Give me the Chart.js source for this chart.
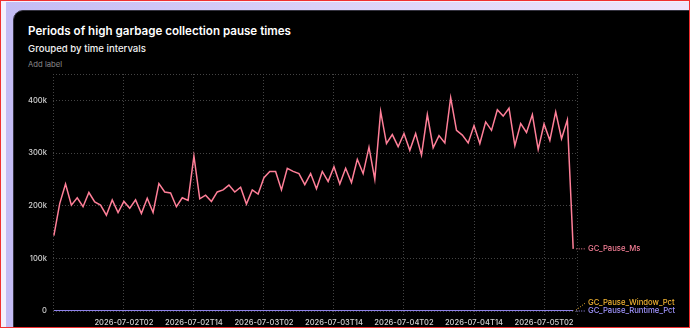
<!DOCTYPE html>
<html>
<head>
<meta charset="utf-8">
<script src="https://cdn.jsdelivr.net/npm/chart.js@4/dist/chart.umd.min.js"></script>
<style>
html,body{margin:0;padding:0;}
body{width:690px;height:328px;overflow:hidden;position:relative;background:#f4f0fc;font-family:Inter,"Noto Sans",sans-serif;}
#frame{position:absolute;left:6px;top:2px;right:0;bottom:0;background:linear-gradient(90deg,#c4bcf4 0%,#d9d1f8 45%,#efe5fb 100%);}
#panel{position:absolute;left:13px;top:10px;width:720px;height:400px;background:#000;border-radius:10px;border:1px solid #34323f;box-sizing:border-box;}
#outline{position:absolute;left:0;top:0;width:688px;height:326px;border:1px solid #f03030;z-index:9;pointer-events:none;}
.t{position:absolute;white-space:nowrap;line-height:1;}
#title{left:28px;top:26px;font-size:12px;font-weight:600;color:#fff;}
#sub{left:28px;top:44px;font-size:10px;font-weight:500;color:#f2f2f2;}
#add{left:28px;top:61px;font-size:8.5px;font-weight:400;color:#8a8a8a;}
#c{position:absolute;left:0;top:0;z-index:5;}
</style>
</head>
<body>
<div id="frame"></div>
<div id="panel"></div>
<div class="t" id="title">Periods of high garbage collection pause times</div>
<div class="t" id="sub">Grouped by time intervals</div>
<div class="t" id="add">Add label</div>
<canvas id="c" width="690" height="328"></canvas>
<div id="outline"></div>
<script>
// ---- data ----
const categories = [];
(function(){
  const start = Date.UTC(2026, 6, 1, 14);
  for (let i = 0; i < 90; i++) {
    categories.push(new Date(start + i * 3600000).toISOString().slice(0, 13));
  }
})();

const gcPauseMs = [
  143000,204000,241000,201000,215000,198000,225000,207000,201000,182000,
  211000,187000,208000,195000,211000,185000,214000,187000,242000,226000,
  224000,198000,215000,210000,294000,213000,220000,208000,226000,230000,
  239000,226000,235000,203000,230000,222000,253000,265000,265000,230000,
  271000,265000,261000,240000,261000,232000,265000,246000,274000,241000,
  271000,244000,288000,261000,311000,250000,379000,318000,335000,312000,
  337000,305000,337000,296000,373000,310000,333000,319000,405000,343000,
  334000,319000,352000,318000,359000,343000,382000,370000,385000,314000,
  356000,339000,373000,307000,355000,324000,378000,327000,363000,118000
];
const gcPauseWindowPct = [
  0,0,0,0,0,0,0,0,0,0, 0,0,0,0,0,0,0,0,0,0, 0,0,0,0,0,0,0,0,0,0,
  0,0,0,0,0,0,0,0,0,0, 0,0,0,0,0,0,0,0,0,0, 0,0,0,0,0,0,0,0,0,0,
  0,0,0,0,0,0,0,0,0,0, 0,0,0,0,0,0,0,0,0,0, 0,0,0,0,0,0,0,0,0,0
];
const gcPauseRuntimePct = [
  0,0,0,0,0,0,0,0,0,0, 0,0,0,0,0,0,0,0,0,0, 0,0,0,0,0,0,0,0,0,0,
  0,0,0,0,0,0,0,0,0,0, 0,0,0,0,0,0,0,0,0,0, 0,0,0,0,0,0,0,0,0,0,
  0,0,0,0,0,0,0,0,0,0, 0,0,0,0,0,0,0,0,0,0, 0,0,0,0,0,0,0,0,0,0
];
const xTickLabels = ['2026-07-02T02','2026-07-02T14','2026-07-03T02','2026-07-03T14','2026-07-04T02','2026-07-04T14','2026-07-05T02'];
const yTickValues = [0, 100000, 200000, 300000, 400000];
const yTickLabels = ['0', '100k', '200k', '300k', '400k'];
const yMax = 450000;

// ---- font sizing to match the reference text widths ----
const mctx = document.createElement('canvas').getContext('2d');
function fit(text, weight, target) {
  mctx.font = weight + ' 20px Inter';
  return Math.round(20 * target / mctx.measureText(text).width * 10) / 10;
}
document.getElementById('title').style.fontSize = fit('Periods of high garbage collection pause times', 600, 262) + 'px';
document.getElementById('sub').style.fontSize = fit('Grouped by time intervals', 500, 118.5) + 'px';
document.getElementById('add').style.fontSize = fit('Add label', 400, 34) + 'px';
const xTickSize = fit('2026-07-02T02', 500, 59);
const yTickSize = fit('400k', 500, 19);
const endLabelSize = fit('GC_Pause_Runtime_Pct', 500, 87);

// ---- chart ----
const gridColor = '#444444';
const toPoints = arr => arr.map((v, i) => ({x: i, y: v}));
const xMin = -0.15, xMax = categories.length - 1 + 0.65;

const endLabels = {
  id: 'endLabels',
  afterDatasetsDraw(chart) {
    const ctx = chart.ctx, area = chart.chartArea;
    const items = chart.data.datasets.map((ds, i) => {
      const meta = chart.getDatasetMeta(i);
      const p = meta.data[meta.data.length - 1];
      return {ds, i, x: p.x, y: p.y, ly: p.y};
    });
    const sorted = items.slice().sort((a, b) => (b.y - a.y) || (b.i - a.i));
    const gap = 8.5;
    for (let k = 1; k < sorted.length; k++) {
      if (sorted[k - 1].ly - sorted[k].ly < gap) sorted[k].ly = sorted[k - 1].ly - gap;
    }
    const lx = area.right + 11;
    ctx.save();
    ctx.font = '500 ' + endLabelSize + 'px Inter';
    ctx.textBaseline = 'middle';
    ctx.textAlign = 'left';
    items.forEach(it => {
      ctx.strokeStyle = it.ds.labelColor;
      ctx.lineWidth = 1;
      ctx.setLineDash([1, 1.5]);
      ctx.beginPath();
      ctx.moveTo(it.x + 3, it.y - (it.ly !== it.y ? 1 : 0));
      ctx.lineTo(lx - 2, it.ly);
      ctx.stroke();
      ctx.fillStyle = it.ds.labelColor;
      ctx.fillText(it.ds.label, lx, it.ly);
    });
    ctx.restore();
  }
};

new Chart(document.getElementById('c'), {
  type: 'line',
  data: {
    datasets: [
      {label: 'GC_Pause_Ms', data: toPoints(gcPauseMs), borderColor: '#ff7f98', labelColor: '#f77f97', borderWidth: 1.5, pointRadius: 0, tension: 0, order: 1},
      {label: 'GC_Pause_Window_Pct', data: toPoints(gcPauseWindowPct), borderColor: '#f2b33a', labelColor: '#f4b532', borderWidth: 2, pointRadius: 0, tension: 0, order: 2},
      {label: 'GC_Pause_Runtime_Pct', data: toPoints(gcPauseRuntimePct), borderColor: '#8f82ea', labelColor: '#a195ff', borderWidth: 2, pointRadius: 0, tension: 0, order: 0}
    ]
  },
  options: {
    responsive: false,
    animation: false,
    devicePixelRatio: 1,
    layout: {padding: {left: 0, top: 74, right: 113, bottom: 0}},
    plugins: {legend: {display: false}, title: {display: false}, tooltip: {enabled: false}},
    scales: {
      x: {
        type: 'linear', min: xMin, max: xMax,
        afterBuildTicks: s => {
          const t = [{value: xMin}];
          xTickLabels.forEach(l => t.push({value: categories.indexOf(l)}));
          t.push({value: xMax});
          s.ticks = t;
        },
        afterFit: s => { s.height = 17; },
        ticks: {
          autoSkip: false, maxRotation: 0, color: '#d2d2d2', font: {family: 'Inter', size: xTickSize, weight: '500'}, padding: 3,
          callback: v => { const c = categories[v]; return xTickLabels.includes(c) ? c : ''; }
        },
        grid: {color: gridColor, lineWidth: 1, tickLength: 4, tickColor: gridColor, tickBorderDash: [1, 2]},
        border: {display: false, dash: [1, 2]}
      },
      y: {
        min: 0, max: yMax,
        afterBuildTicks: s => { s.ticks = yTickValues.concat([yMax]).map(v => ({value: v})); },
        afterFit: s => { s.width = 53; },
        ticks: {
          color: '#d2d2d2', font: {family: 'Inter', size: yTickSize, weight: '500'}, padding: 6,
          callback: v => { const k = yTickValues.indexOf(v); return k >= 0 ? yTickLabels[k] : ''; }
        },
        grid: {color: gridColor, lineWidth: 1, drawTicks: false},
        border: {display: false, dash: [1, 2]}
      }
    }
  },
  plugins: [endLabels]
});
</script>
</body>
</html>
